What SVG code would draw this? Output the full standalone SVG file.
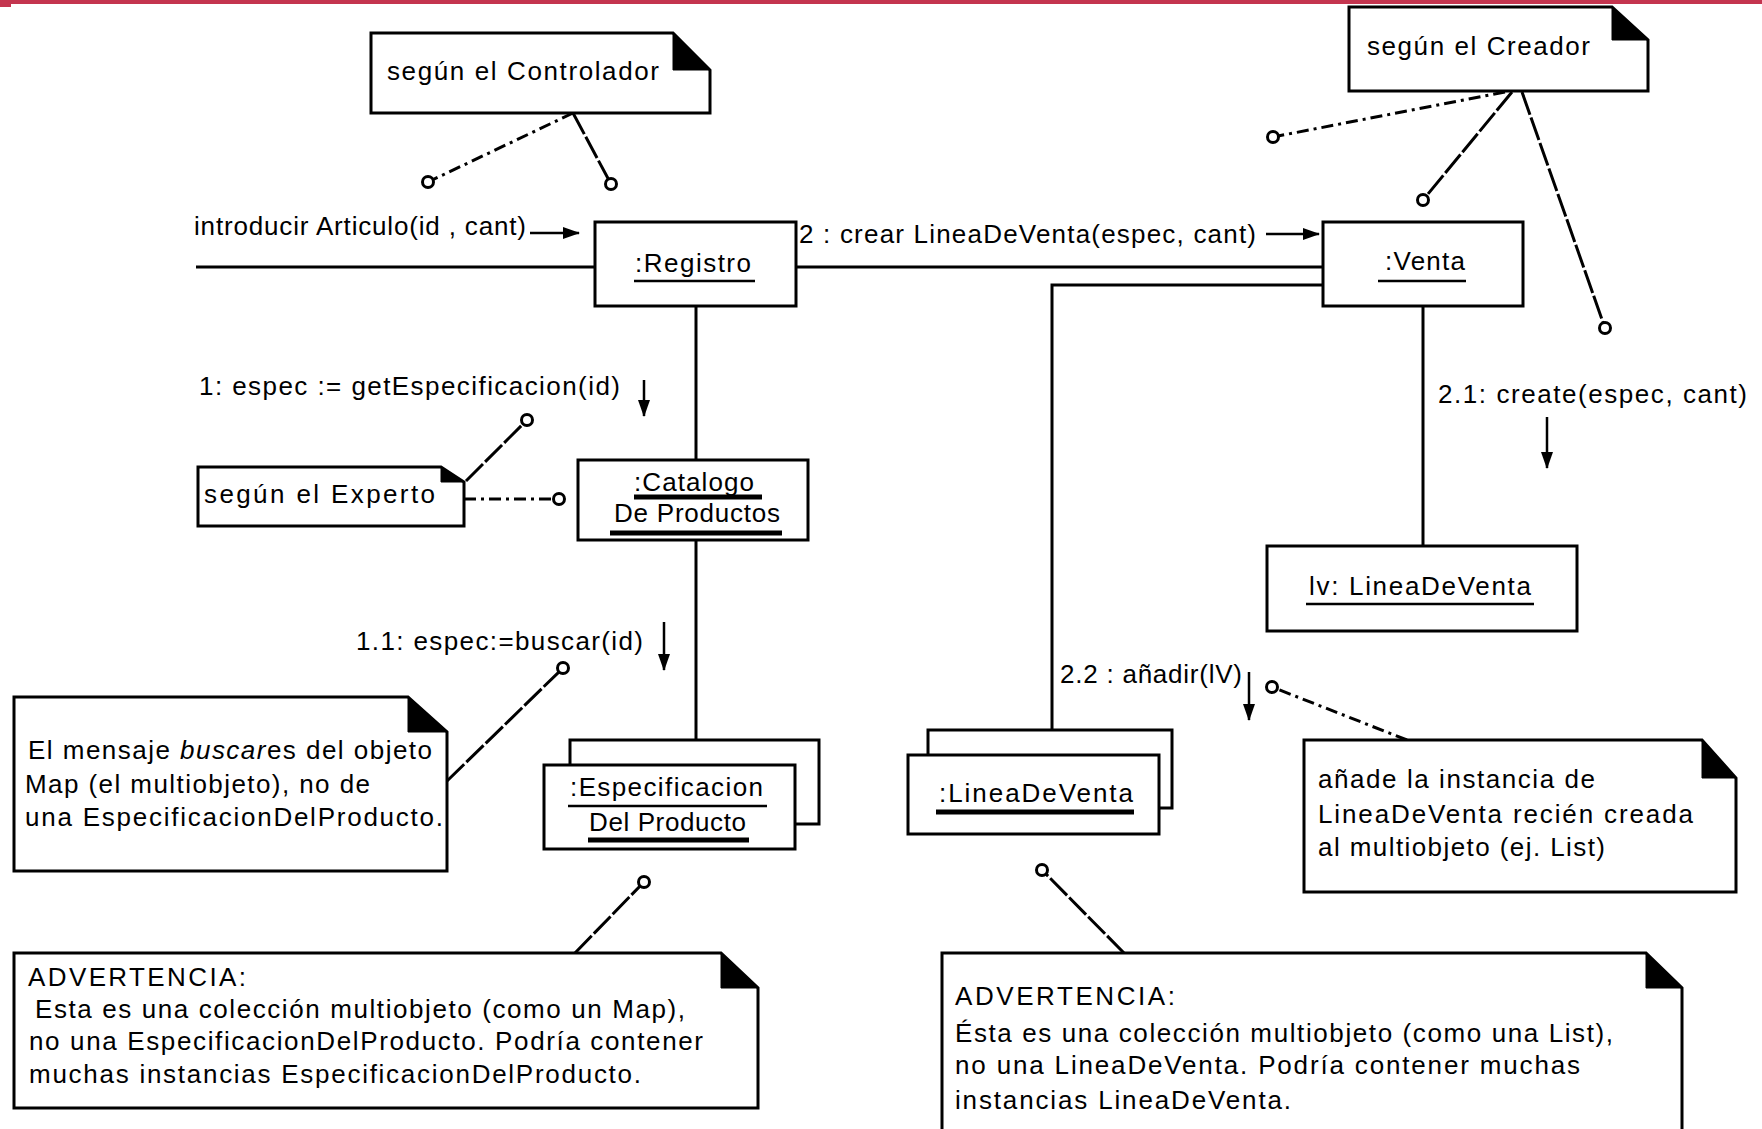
<svg xmlns="http://www.w3.org/2000/svg" width="1762" height="1129" viewBox="0 0 1762 1129">
  <style>
    .box { fill: #ffffff; stroke: #000000; stroke-width: 3; }
    .fold { fill: #000000; stroke: #000000; stroke-width: 1; }
    .link { fill: none; stroke: #000000; stroke-width: 3; }
    .msg { fill: none; stroke: #000000; stroke-width: 2.5; }
    .anchor { fill: none; stroke: #000000; stroke-width: 3; stroke-dasharray: 24 3; }
    .anchor-dd { fill: none; stroke: #000000; stroke-width: 3; stroke-dasharray: 12 5 3 5; }
    .pin { fill: #ffffff; stroke: #000000; stroke-width: 3; }
    .ul { stroke: #000000; stroke-width: 2.5; }
    .ul-b { stroke: #000000; stroke-width: 5; }
    text { font-family: "Liberation Sans", Arial, sans-serif; font-size: 26px; fill: #000000; }
  </style>
  <defs>
    <marker id="head" markerUnits="userSpaceOnUse" markerWidth="17" markerHeight="12" refX="16" refY="6" orient="auto">
      <path d="M0,0 L17,6 L0,12 z" fill="#000000"/>
    </marker>
  </defs>

  <rect x="0" y="0" width="1762" height="1129" fill="#ffffff"/>
  <!-- page header rule -->
  <rect x="0" y="0" width="1762" height="4" fill="#c4354f"/>
  <rect x="0" y="0" width="11" height="7" fill="#c4354f"/>

  <!-- links between objects -->
  <g id="connectors">
    <path class="link" d="M196,267 H595"/>
    <path class="link" d="M796,267 H1323"/>
    <path class="link" d="M1323,285 H1052 V730"/>
    <path class="link" d="M696,306 V460"/>
    <path class="link" d="M696,540 V740"/>
    <path class="link" d="M1423,306 V546"/>

    <!-- message arrows -->
    <line class="msg" x1="530" y1="233" x2="579" y2="233" marker-end="url(#head)"/>
    <line class="msg" x1="1266" y1="234" x2="1319" y2="234" marker-end="url(#head)"/>
    <line class="msg" x1="644" y1="380" x2="644" y2="416" marker-end="url(#head)"/>
    <line class="msg" x1="664" y1="622" x2="664" y2="670" marker-end="url(#head)"/>
    <line class="msg" x1="1547" y1="417" x2="1547" y2="468" marker-end="url(#head)"/>
    <line class="msg" x1="1249" y1="672" x2="1249" y2="720" marker-end="url(#head)"/>

    <!-- note anchors -->
    <line class="anchor-dd" x1="573" y1="113" x2="428" y2="182"/>
    <line class="anchor" x1="573" y1="113" x2="611" y2="184"/>
    <line class="anchor-dd" x1="1505" y1="92" x2="1273" y2="137"/>
    <line class="anchor" x1="1512" y1="92" x2="1423" y2="200"/>
    <line class="anchor" x1="1522" y1="92" x2="1605" y2="328"/>
    <line class="anchor" x1="466" y1="481" x2="527" y2="420"/>
    <line class="anchor-dd" x1="464" y1="499" x2="559" y2="499"/>
    <line class="anchor" x1="447" y1="781" x2="563" y2="668"/>
    <line class="anchor" x1="575" y1="953" x2="644" y2="882"/>
    <line class="anchor-dd" x1="1407" y1="740" x2="1272" y2="687"/>
    <line class="anchor" x1="1124" y1="953" x2="1042" y2="870"/>

    <circle class="pin" cx="428" cy="182" r="5.5"/>
    <circle class="pin" cx="611" cy="184" r="5.5"/>
    <circle class="pin" cx="1273" cy="137" r="5.5"/>
    <circle class="pin" cx="1423" cy="200" r="5.5"/>
    <circle class="pin" cx="1605" cy="328" r="5.5"/>
    <circle class="pin" cx="527" cy="420" r="5.5"/>
    <circle class="pin" cx="559" cy="499" r="5.5"/>
    <circle class="pin" cx="563" cy="668" r="5.5"/>
    <circle class="pin" cx="644" cy="882" r="5.5"/>
    <circle class="pin" cx="1272" cy="687" r="5.5"/>
    <circle class="pin" cx="1042" cy="870" r="5.5"/>
  </g>

  <!-- message labels -->
  <g id="messages">
    <text x="194" y="235" textLength="332" lengthAdjust="spacing">introducir Articulo(id , cant)</text>
    <text x="799" y="243" textLength="457" lengthAdjust="spacing">2 : crear LineaDeVenta(espec, cant)</text>
    <text x="199" y="395" textLength="421" lengthAdjust="spacing">1: espec := getEspecificacion(id)</text>
    <text x="356" y="650" textLength="287" lengthAdjust="spacing">1.1: espec:=buscar(id)</text>
    <text x="1438" y="403" textLength="309" lengthAdjust="spacing">2.1: create(espec, cant)</text>
    <text x="1060" y="683" textLength="182" lengthAdjust="spacing">2.2 : añadir(lV)</text>
  </g>

  <!-- objects -->
  <g id="registro">
    <rect class="box" x="595" y="222" width="201" height="84"/>
    <text x="635" y="272" textLength="116" lengthAdjust="spacing">:Registro</text>
    <line class="ul" x1="634" y1="281" x2="755" y2="281"/>
  </g>

  <g id="venta">
    <rect class="box" x="1323" y="222" width="200" height="84"/>
    <text x="1385" y="270" textLength="80" lengthAdjust="spacing">:Venta</text>
    <line class="ul" x1="1378" y1="281" x2="1466" y2="281"/>
  </g>

  <g id="catalogo">
    <rect class="box" x="578" y="460" width="230" height="80"/>
    <text x="634" y="491" textLength="120" lengthAdjust="spacing">:Catalogo</text>
    <line class="ul-b" x1="634" y1="497" x2="762" y2="497"/>
    <text x="614" y="522" textLength="166" lengthAdjust="spacing">De Productos</text>
    <line class="ul-b" x1="610" y1="533" x2="782" y2="533"/>
  </g>

  <g id="especificaciones">
    <rect class="box" x="570" y="740" width="249" height="84"/>
    <rect class="box" x="544" y="765" width="251" height="84"/>
    <text x="570" y="796" textLength="193" lengthAdjust="spacing">:Especificacion</text>
    <line class="ul" x1="568" y1="806" x2="767" y2="806"/>
    <text x="589" y="831" textLength="157" lengthAdjust="spacing">Del Producto</text>
    <line class="ul-b" x1="588" y1="840" x2="749" y2="840"/>
  </g>

  <g id="lv">
    <rect class="box" x="1267" y="546" width="310" height="85"/>
    <text x="1309" y="595" textLength="222" lengthAdjust="spacing">lv: LineaDeVenta</text>
    <line class="ul" x1="1306" y1="604" x2="1534" y2="604"/>
  </g>

  <g id="lineas">
    <rect class="box" x="928" y="730" width="244" height="78"/>
    <rect class="box" x="908" y="755" width="251" height="79"/>
    <text x="939" y="802" textLength="194" lengthAdjust="spacing">:LineaDeVenta</text>
    <line class="ul-b" x1="936" y1="812" x2="1134" y2="812"/>
  </g>

  <!-- notes -->
  <g id="nota-controlador">
    <path class="box" d="M371,33 H673 L710,70 V113 H371 Z"/>
    <path class="fold" d="M673,33 V70 H710 Z"/>
    <text x="387" y="80" textLength="272" lengthAdjust="spacing">según el Controlador</text>
  </g>

  <g id="nota-creador">
    <path class="box" d="M1349,7 H1612 L1648,40 V91 H1349 Z"/>
    <path class="fold" d="M1612,7 V40 H1648 Z"/>
    <text x="1367" y="55" textLength="223" lengthAdjust="spacing">según el Creador</text>
  </g>

  <g id="nota-experto">
    <path class="box" d="M198,467 H441 L464,482 V526 H198 Z"/>
    <path class="fold" d="M441,467 V482 H464 Z"/>
    <text x="204" y="503" textLength="231" lengthAdjust="spacing">según el Experto</text>
  </g>

  <g id="nota-mensaje">
    <path class="box" d="M14,697 H408 L447,732 V871 H14 Z"/>
    <path class="fold" d="M408,697 V732 H447 Z"/>
    <text x="28" y="759" textLength="404" lengthAdjust="spacing">El mensaje <tspan font-style="italic">buscar</tspan>es del objeto</text>
    <text x="25" y="793" textLength="345" lengthAdjust="spacing">Map (el multiobjeto), no de</text>
    <text x="25" y="826" textLength="418" lengthAdjust="spacing">una EspecificacionDelProducto.</text>
  </g>

  <g id="nota-advertencia-map">
    <path class="box" d="M14,953 H721 L758,988 V1108 H14 Z"/>
    <path class="fold" d="M721,953 V988 H758 Z"/>
    <text x="28" y="986" textLength="218" lengthAdjust="spacing">ADVERTENCIA:</text>
    <text x="35" y="1018" textLength="650" lengthAdjust="spacing">Esta es una colección multiobjeto (como un Map),</text>
    <text x="29" y="1050" textLength="674" lengthAdjust="spacing">no una EspecificacionDelProducto. Podría contener</text>
    <text x="29" y="1083" textLength="612" lengthAdjust="spacing">muchas instancias EspecificacionDelProducto.</text>
  </g>

  <g id="nota-anade">
    <path class="box" d="M1304,740 H1702 L1736,778 V892 H1304 Z"/>
    <path class="fold" d="M1702,740 V778 H1736 Z"/>
    <text x="1318" y="788" textLength="277" lengthAdjust="spacing">añade la instancia de</text>
    <text x="1318" y="823" textLength="375" lengthAdjust="spacing">LineaDeVenta recién creada</text>
    <text x="1318" y="856" textLength="287" lengthAdjust="spacing">al multiobjeto (ej. List)</text>
  </g>

  <g id="nota-advertencia-list">
    <path class="box" d="M942,953 H1646 L1682,988 V1140 H942 Z"/>
    <path class="fold" d="M1646,953 V988 H1682 Z"/>
    <text x="955" y="1005" textLength="220" lengthAdjust="spacing">ADVERTENCIA:</text>
    <text x="955" y="1042" textLength="658" lengthAdjust="spacing">Ésta es una colección multiobjeto (como una List),</text>
    <text x="955" y="1074" textLength="625" lengthAdjust="spacing">no una LineaDeVenta. Podría contener muchas</text>
    <text x="955" y="1109" textLength="336" lengthAdjust="spacing">instancias LineaDeVenta.</text>
  </g>
</svg>
